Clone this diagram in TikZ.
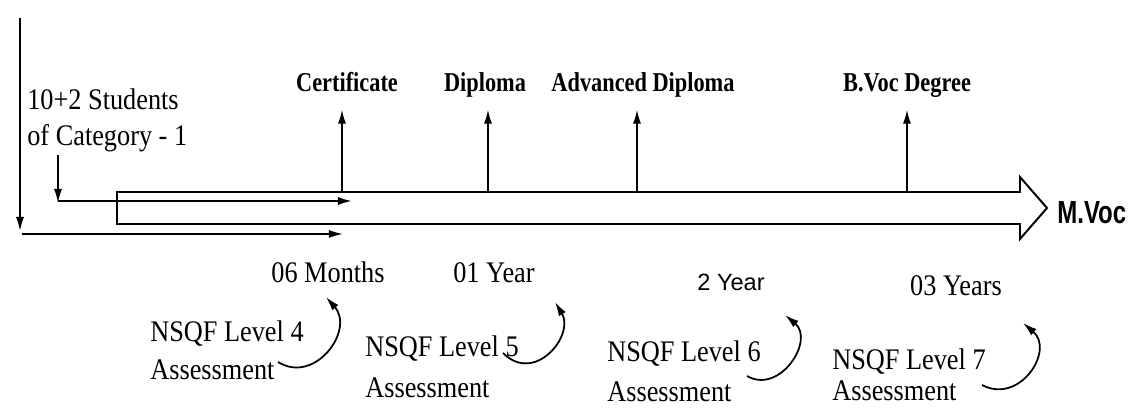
\documentclass[tikz,border=0pt]{standalone}
\usepackage{fontspec}
\setmainfont{Liberation Serif}[FakeStretch=0.88]
\newfontfamily\awardfont{Liberation Serif}[FakeStretch=0.82]
\newfontfamily\yearfont{Liberation Sans}
\newfontfamily\mvocfont{Liberation Sans}[FakeStretch=0.75]
\usetikzlibrary{arrows.meta}
\begin{document}
\begin{tikzpicture}[scale=0.2,
  lbl/.style={font=\fontsize{17}{22}\selectfont, align=left},
  award/.style={font=\awardfont\bfseries\fontsize{15.5}{18}\selectfont, anchor=base},
  tip/.style={-{Latex[length=8pt,width=4.6pt]}, line width=1pt}]
\tikzstyle{every node}+=[inner sep=0pt]
\useasboundingbox (0,0) rectangle (113.4,-40.8);
% entry arrows on the left
\coordinate (s0) at (2.0,-1.8);
\coordinate (s1) at (2.0,-23.1);
\coordinate (h0) at (2.2,-23.4);
\coordinate (h1) at (34.3,-23.4);
\draw [black, tip] (s0) -- (s1);
\draw [black, tip] (h0) -- (h1);
\node (stud) [lbl, font=\fontsize{17}{21}\selectfont, anchor=north west] at (2.7,-8.8) {10+2 Students\\of Category - 1};
\coordinate (a0) at (5.8,-15.5);
\coordinate (a1) at (5.8,-20.3);
\coordinate (a2) at (35.2,-20.1);
\draw [black, tip] (a0) -- (a1);
\draw [black, tip] (5.8,-20.1) -- (a2);
% big arrow
\draw [black, line width=1.1pt] (11.7,-19.2) -- (102.0,-19.2) -- (102.0,-17.7) -- (104.7,-20.8) -- (102.0,-23.9) -- (102.0,-22.4) -- (11.7,-22.4) -- cycle;
\node (mvoc) [anchor=west, font=\mvocfont\bfseries\fontsize{18.2}{20}\selectfont] at (105.7,-21.3) {M.Voc};
% awards
\node (cert) [award] at (34.7,-9.2) {Certificate};
\node (dipl) [award] at (48.5,-9.2) {Diploma};
\node (adv) [award] at (64.3,-9.2) {Advanced Diploma};
\node (bvoc) [award] at (90.7,-9.2) {B.Voc Degree};
\coordinate (p1) at (34.2,-19.2);
\coordinate (p2) at (48.8,-19.2);
\coordinate (p3) at (63.7,-19.2);
\coordinate (p4) at (90.7,-19.2);
\draw [black, tip, shorten >=10pt] (p1) -- (p1 |- cert.base);
\draw [black, tip, shorten >=10pt] (p2) -- (p2 |- dipl.base);
\draw [black, tip, shorten >=10pt] (p3) -- (p3 |- adv.base);
\draw [black, tip, shorten >=10pt] (p4) -- (p4 |- bvoc.base);
% durations
\node (m06) [lbl, anchor=base] at (32.8,-28.3) {06 Months};
\node (y01) [lbl, anchor=base] at (49.4,-28.3) {01 Year};
\node (y2) [anchor=base, font=\yearfont\fontsize{13.4}{16}\selectfont] at (73.1,-29.1) {2 Year};
\node (y03) [lbl, anchor=base] at (95.6,-29.6) {03 Years};
% assessments
\node (lv4) [lbl, anchor=north west] at (15.0,-32.0) {NSQF Level 4\\Assessment};
\node (lv5) [lbl, font=\fontsize{17}{23.5}\selectfont, anchor=north west] at (36.5,-33.5) {NSQF Level 5\\Assessment};
\node (lv6) [lbl, font=\fontsize{17}{23}\selectfont, anchor=north west] at (60.7,-34.0) {NSQF Level 6\\Assessment};
\node (lv7) [lbl, font=\fontsize{17}{18}\selectfont, anchor=north west] at (83.2,-34.8) {NSQF Level 7\\Assessment};
\coordinate (q4s) at (27.8,-36.2);
\coordinate (q4e) at (32.6,-29.7);
\coordinate (q5s) at (50.3,-35.3);
\coordinate (q5e) at (55.5,-30.2);
\coordinate (q6s) at (74.7,-37.6);
\coordinate (q6e) at (78.5,-31.5);
\coordinate (q7s) at (98.2,-38.5);
\coordinate (q7e) at (102.3,-32.3);
\draw [black, tip] (q4s) .. controls (31.5,-38.5) and (35.5,-33.0) .. (q4e);
\draw [black, tip] (q5s) .. controls (53.5,-38.5) and (57.5,-33.5) .. (q5e);
\draw [black, tip] (q6s) .. controls (78.0,-39.5) and (81.5,-34.0) .. (q6e);
\draw [black, tip] (q7s) .. controls (102.0,-40.5) and (105.5,-35.0) .. (q7e);
\end{tikzpicture}
\end{document}
